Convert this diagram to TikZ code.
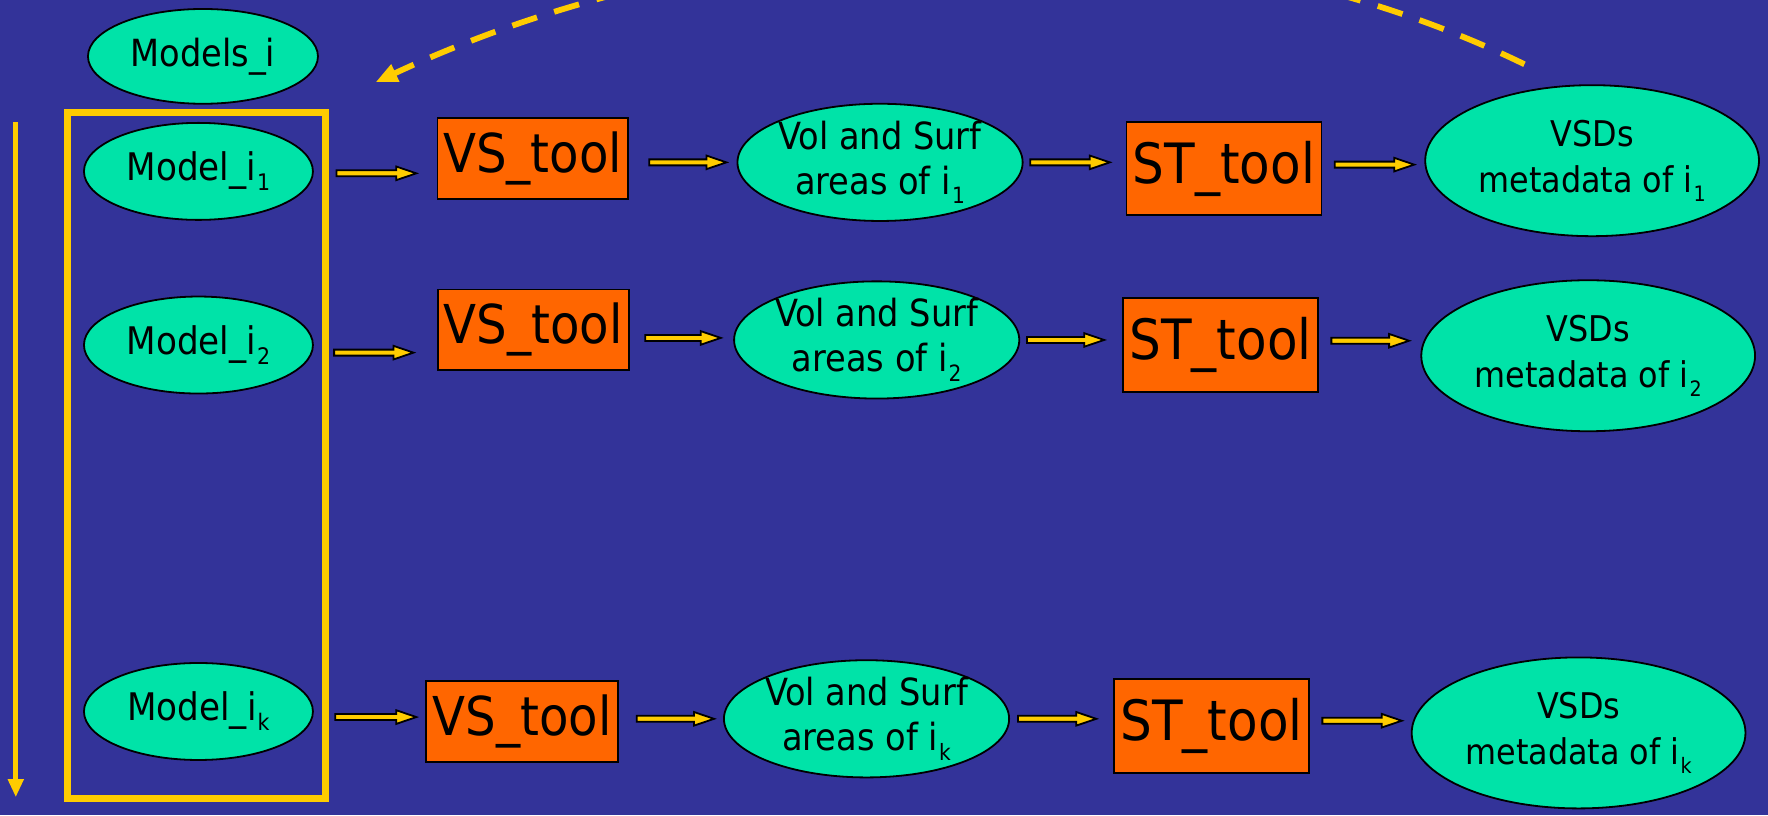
\documentclass[tikz,border=0pt]{standalone}
\usepackage{fontspec}
\usepackage{graphicx}
\setmainfont{DejaVu Sans Condensed}
\usetikzlibrary{shapes.geometric,arrows.meta,calc}
\definecolor{bg}{HTML}{333399}
\definecolor{mint}{HTML}{00E3A8}
\definecolor{orng}{HTML}{FF6600}
\definecolor{yel}{HTML}{FFCC00}
\newcommand\sbs[1]{\kern0.03em\raisebox{-0.26em}{\scalebox{0.6}{#1}}}
\newcommand\blockarr[5]{%
  \filldraw[barr] let \p1=($(#1.east)+(#3,0)$), \p2=($(#2.west)-(#4,0)$),
     \p3=($(#1.center)!#5!(#2.center)$) in
   (\x1,\y3+1.5pt) -- (\x2-10pt,\y3+1.5pt) -- (\x2-10pt,\y3+3.4pt) -- (\x2,\y3)
   -- (\x2-10pt,\y3-3.4pt) -- (\x2-10pt,\y3-1.5pt) -- (\x1,\y3-1.5pt) -- cycle;}
\begin{document}
\begin{tikzpicture}[x=0.5638pt,y=-0.5638pt,
  ell/.style={ellipse,draw=black,line width=0.9pt,fill=mint,inner sep=-4pt,align=center},
  modell/.style={ell,minimum width=114.5pt,minimum height=48.5pt,font=\fontsize{19}{22}\selectfont},
  volell/.style={ell,minimum width=142.6pt,minimum height=58.6pt,font=\fontsize{18.7}{22.5}\selectfont},
  vsdell/.style={ell,minimum width=166.9pt,minimum height=75.5pt,font=\fontsize{17.7}{23}\selectfont},
  vsbox/.style={rectangle,draw=black,line width=0.9pt,fill=orng,inner sep=0pt,minimum width=95.3pt,minimum height=40.3pt,font=\fontsize{26.8}{30}\selectfont},
  stbox/.style={rectangle,draw=black,line width=0.9pt,fill=orng,inner sep=0pt,minimum width=97.5pt,minimum height=46.8pt,font=\fontsize{27.8}{30}\selectfont},
  barr/.style={draw=black,fill=yel,line width=0.9pt,line join=miter}]
\useasboundingbox (0,0) rectangle (1568,723);
\fill[bg] (0,0) rectangle (1568,723);
% frame and left arrow
\node[draw=yel,line width=3.4pt,minimum width=129.1pt,minimum height=342.8pt,inner sep=0pt] (frame) at (174.5,404) {};
\coordinate (lt) at (14,108);
\coordinate (lb) at (14,707);
\draw[yel,line width=2.4pt,-{Triangle[width=7.5pt,length=9pt]}] (lt) -- (lb);
% models
\node[modell,minimum width=115pt,minimum height=47.4pt,font=\fontsize{18.7}{22}\selectfont] (models) at (180,50) {Models\_i};
\node[modell] (m1) at (176,152) {Model\_i\sbs{1}};
\node[modell] (m2) at (176,306) {Model\_i\sbs{2}};
\node[modell] (mk) at (176,631) {Model\_i\sbs{k}};
% tools
\node[vsbox] (vs1) at (472.5,140.5) {VS\_tool};
\node[vsbox] (vs2) at (473,292.5) {VS\_tool};
\node[vsbox,minimum width=95.8pt,minimum height=40.6pt] (vsk) at (463,640) {VS\_tool};
\node[volell] (v1) at (780.5,144) {Vol and Surf\\areas of i\sbs{1}};
\node[volell] (v2) at (777.5,301.5) {Vol and Surf\\areas of i\sbs{2}};
\node[volell] (vk) at (768.5,637.5) {Vol and Surf\\areas of i\sbs{k}};
\node[stbox] (st1) at (1085.5,149.5) {ST\_tool};
\node[stbox] (st2) at (1082.5,306) {ST\_tool};
\node[stbox] (stk) at (1074.5,644) {ST\_tool};
\node[vsdell] (d1) at (1412,142.5) {VSDs\\metadata of i\sbs{1}};
\node[vsdell] (d2) at (1408.5,315.5) {VSDs\\metadata of i\sbs{2}};
\node[vsdell] (dk) at (1400,650) {VSDs\\metadata of i\sbs{k}};
% arrows
\blockarr{m1}{vs1}{20}{18}{-0.15}
\blockarr{vs1}{v1}{18}{9}{1}
\blockarr{v1}{st1}{6}{14}{0}
\blockarr{st1}{d1}{11}{9}{0.5}
\blockarr{m2}{vs2}{18}{21}{-0.5}
\blockarr{vs2}{v2}{14}{11}{0.8}
\blockarr{v2}{st2}{6}{16}{0}
\blockarr{st2}{d2}{11}{10}{-0.4}
\blockarr{mk}{vsk}{19}{8}{0.55}
\blockarr{vsk}{vk}{16}{8}{1}
\blockarr{vk}{stk}{7}{15}{0}
\blockarr{stk}{dk}{11}{8}{-0.8}
% dashed feedback arc
\coordinate (ds) at (1352,57);
\coordinate (de) at (333,73);
\draw[yel,line width=2.9pt,dash pattern=on 13pt off 9pt,-{Triangle[width=9pt,length=11pt]}]
  (ds) .. controls (1050,-90) and (650,-75) .. (de);
\end{tikzpicture}
\end{document}
